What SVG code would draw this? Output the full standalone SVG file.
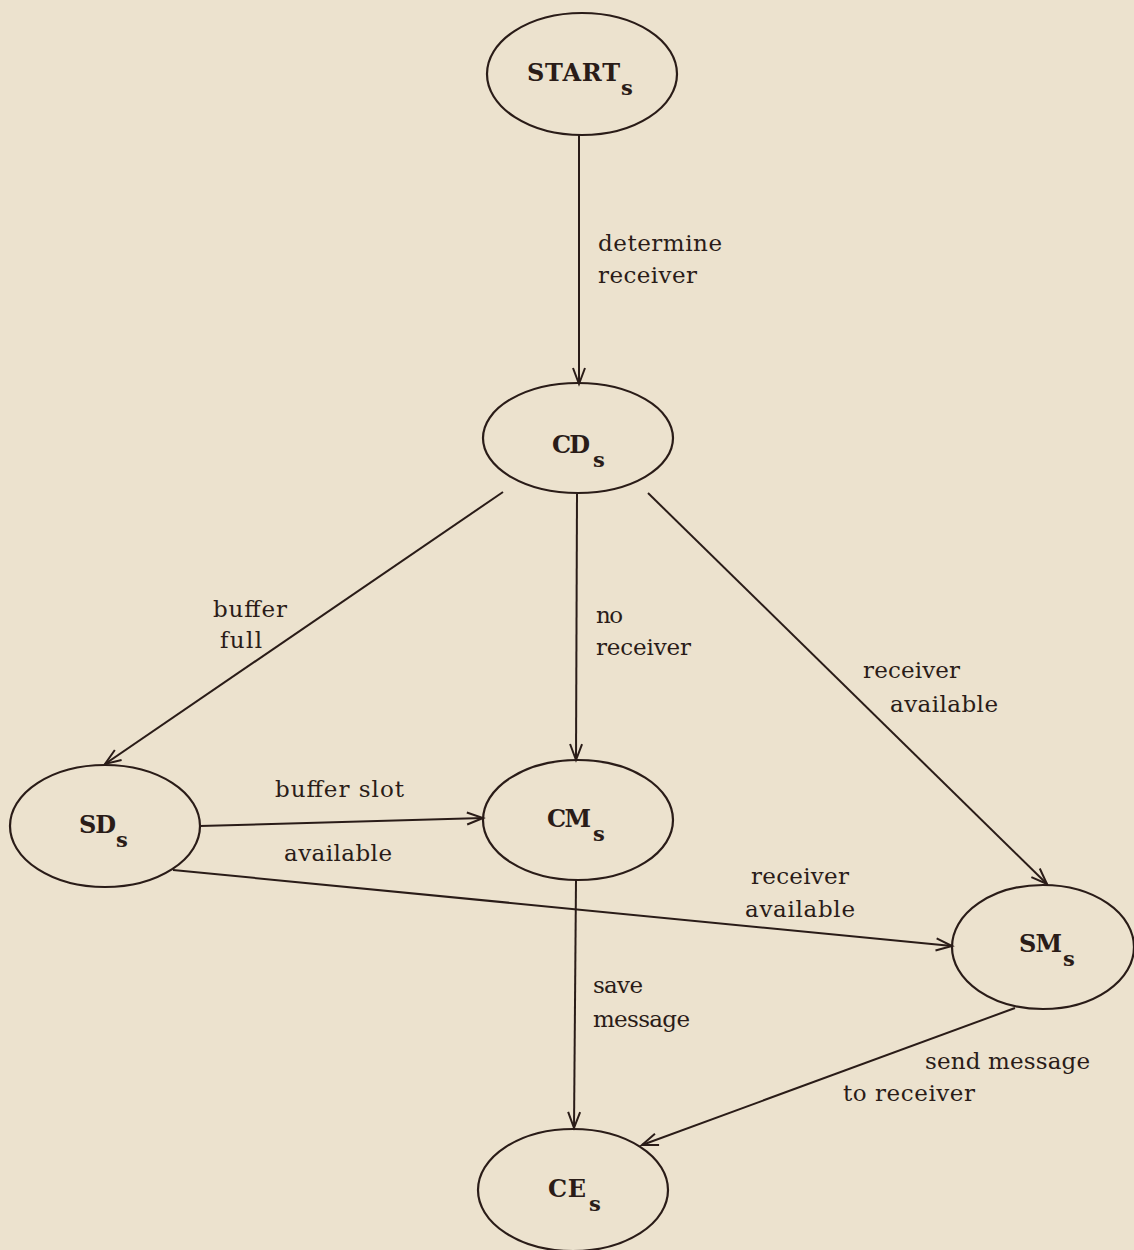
<svg xmlns="http://www.w3.org/2000/svg" width="1134" height="1250" viewBox="0 0 1134 1250">
<style>
.node ellipse{fill:none;stroke:#2a1c18;stroke-width:2.2}
.nl{font-family:"DejaVu Serif","Liberation Serif",serif;font-weight:bold;font-size:24px;fill:#2a1c18}
.sub{font-size:21px}
.el{font-family:"DejaVu Serif","Liberation Serif",serif;font-size:23px;fill:#2a1c18}
.edges line{stroke:#2a1c18;stroke-width:2;marker-end:url(#arr)}
</style>
<defs>
<marker id="arr" markerUnits="userSpaceOnUse" markerWidth="20" markerHeight="16" refX="17" refY="7" orient="auto" viewBox="0 0 20 14">
<path d="M1,1 L17,7 L1,13" fill="none" stroke="#2a1c18" stroke-width="2"/>
</marker>
</defs>
<rect width="1134" height="1250" fill="#ece2ce"/>
<g class="edges">
<line x1="579" y1="135" x2="579" y2="384"/>
<line x1="503" y1="492" x2="105" y2="764"/>
<line x1="577" y1="494" x2="576" y2="760"/>
<line x1="648" y1="493" x2="1047" y2="884"/>
<line x1="200" y1="826" x2="483" y2="818"/>
<line x1="173" y1="870" x2="952" y2="946"/>
<line x1="576" y1="880" x2="574" y2="1128"/>
<line x1="1015" y1="1008" x2="642" y2="1145"/>
<text class="el" x="598" y="251" textLength="124">determine</text>
<text class="el" x="598" y="283" textLength="99">receiver</text>
<text class="el" x="213" y="617" textLength="74">buffer</text>
<text class="el" x="220" y="648" textLength="42">full</text>
<text class="el" x="596" y="623" textLength="27">no</text>
<text class="el" x="596" y="655" textLength="95">receiver</text>
<text class="el" x="863" y="678" textLength="97">receiver</text>
<text class="el" x="890" y="712" textLength="108">available</text>
<text class="el" x="275" y="797" textLength="129">buffer slot</text>
<text class="el" x="284" y="861" textLength="108">available</text>
<text class="el" x="751" y="884" textLength="98">receiver</text>
<text class="el" x="745" y="917" textLength="110">available</text>
<text class="el" x="593" y="993" textLength="50">save</text>
<text class="el" x="593" y="1027" textLength="97">message</text>
<text class="el" x="925" y="1069" textLength="165">send message</text>
<text class="el" x="843" y="1101" textLength="132">to receiver</text>
</g>
<g id="START" class="node"><ellipse cx="582" cy="74" rx="95" ry="61"/><text class="nl" x="527" y="81" textLength="93">START</text><text class="nl sub" x="621" y="95">s</text></g>
<g id="CD" class="node"><ellipse cx="578" cy="438" rx="95" ry="55"/><text class="nl" x="552" y="453" textLength="38">CD</text><text class="nl sub" x="593" y="467">s</text></g>
<g id="SD" class="node"><ellipse cx="105" cy="826" rx="95" ry="61"/><text class="nl" x="79" y="833" textLength="37">SD</text><text class="nl sub" x="116" y="847">s</text></g>
<g id="CM" class="node"><ellipse cx="578" cy="820" rx="95" ry="60"/><text class="nl" x="547" y="827" textLength="44">CM</text><text class="nl sub" x="593" y="841">s</text></g>
<g id="SM" class="node"><ellipse cx="1043" cy="947" rx="91" ry="62"/><text class="nl" x="1019" y="952" textLength="43">SM</text><text class="nl sub" x="1063" y="966">s</text></g>
<g id="CE" class="node"><ellipse cx="573" cy="1190" rx="95" ry="61"/><text class="nl" x="548" y="1197" textLength="38">CE</text><text class="nl sub" x="589" y="1211">s</text></g>
</svg>
